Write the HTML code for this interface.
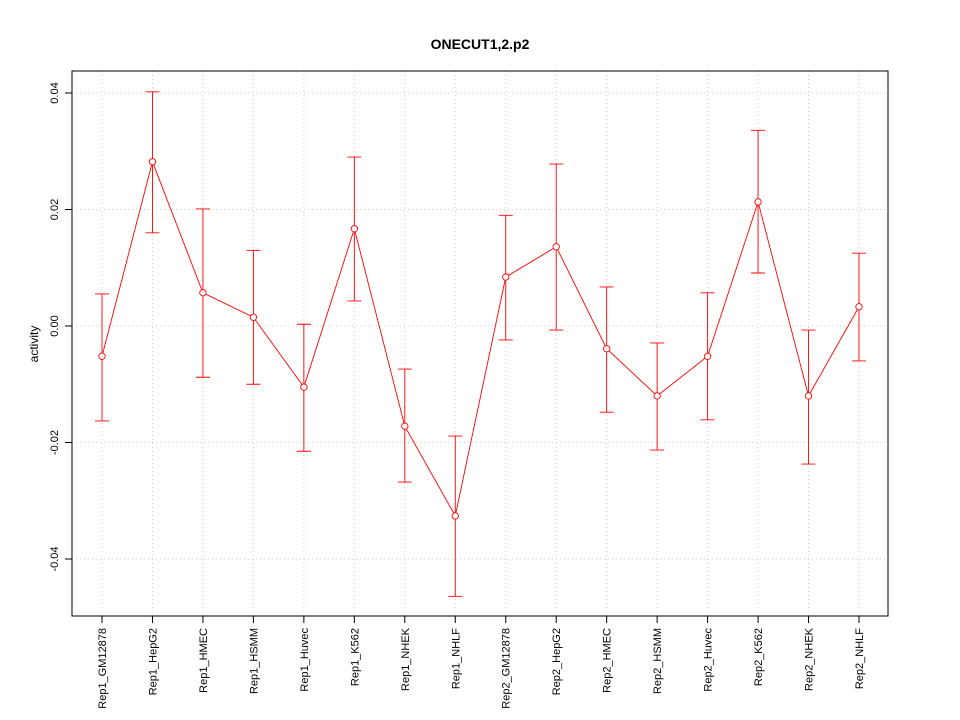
<!DOCTYPE html>
<html><head><meta charset="utf-8"><style>body{margin:0;background:#fff}svg{display:block}</style></head>
<body>
<svg id="chart" width="960" height="720" xmlns="http://www.w3.org/2000/svg" font-family="Liberation Sans, sans-serif">
<rect width="960" height="720" fill="#fff"/>
<text x="480" y="49" text-anchor="middle" font-size="14" font-weight="bold">ONECUT1,2.p2</text>
<text transform="translate(38,344) rotate(-90)" text-anchor="middle" font-size="12">activity</text>
<g id="grid"></g><g id="axes"></g><g id="marks"></g>
<rect x="72" y="71" width="816" height="545" fill="none" stroke="#000"/>
</svg>
<script>
const categories=["Rep1_GM12878","Rep1_HepG2","Rep1_HMEC","Rep1_HSMM","Rep1_Huvec","Rep1_K562","Rep1_NHEK","Rep1_NHLF","Rep2_GM12878","Rep2_HepG2","Rep2_HMEC","Rep2_HSMM","Rep2_Huvec","Rep2_K562","Rep2_NHEK","Rep2_NHLF"];
const values=[-0.0052,0.0282,0.0057,0.0015,-0.0105,0.0167,-0.0172,-0.0326,0.0084,0.0136,-0.0039,-0.012,-0.0052,0.0213,-0.012,0.0033];
const upper=[0.0055,0.0402,0.0201,0.013,0.0003,0.029,-0.0074,-0.0189,0.019,0.0278,0.0067,-0.0029,0.0057,0.0336,-0.0007,0.0125];
const lower=[-0.0163,0.016,-0.0088,-0.01,-0.0215,0.0043,-0.0268,-0.0464,-0.0024,-0.0007,-0.0148,-0.0213,-0.0161,0.0091,-0.0237,-0.006];
const yTicks=[-0.04,-0.02,0.00,0.02,0.04];
const yTickLabels=["-0.04","-0.02","0.00","0.02","0.04"];
const NS="http://www.w3.org/2000/svg";
const xs=i=>102+i*(859-102)/(categories.length-1);
const ys=v=>326-v*5825;
function mk(parent,tag,attrs){const e=document.createElementNS(NS,tag);for(const k in attrs)e.setAttribute(k,attrs[k]);document.getElementById(parent).appendChild(e);return e;}
yTicks.forEach((t,i)=>{
  const g=mk('grid','line',{x1:72,x2:888,y1:ys(t),y2:ys(t),stroke:'#ccc','stroke-dasharray':'1,3'});
  
  
  const tk=mk('axes','line',{x1:65,x2:72,y1:ys(t),y2:ys(t),stroke:'#000'});
  
  
  const tx=mk('axes','text',{transform:`translate(58,${ys(t)}) rotate(-90)`,'text-anchor':'middle','font-size':'11'});
  tx.textContent=yTickLabels[i];
  
  
});
categories.forEach((c,i)=>{
  const x=xs(i);
  const g=mk('grid','line',{x1:x,x2:x,y1:71,y2:616,stroke:'#ccc','stroke-dasharray':'1,3'});
  
  
  const tk=mk('axes','line',{x1:x,x2:x,y1:616,y2:623,stroke:'#000'});
  
  
  const tx=mk('axes','text',{transform:`translate(${x+4},628) rotate(-90)`,'text-anchor':'end','font-size':'11'});
  tx.textContent=c;
  
  
});
const pts=values.map((v,i)=>xs(i)+','+ys(v)).join(' ');
const pl=mk('marks','polyline',{points:pts,fill:'none',stroke:'#f00','stroke-width':0.9});


values.forEach((v,i)=>{
  const x=xs(i);
  const e=mk('marks','path',{d:`M${x},${ys(upper[i])}V${ys(lower[i])}M${x-7},${ys(upper[i])}H${x+7}M${x-7},${ys(lower[i])}H${x+7}`,stroke:'#f00',fill:'none','stroke-width':0.9});
  
  
  const p=mk('marks','circle',{cx:x,cy:ys(v),r:3.2,fill:'#fff',stroke:'#f00','stroke-width':0.9});
  
  
});
</script>
</body></html>
